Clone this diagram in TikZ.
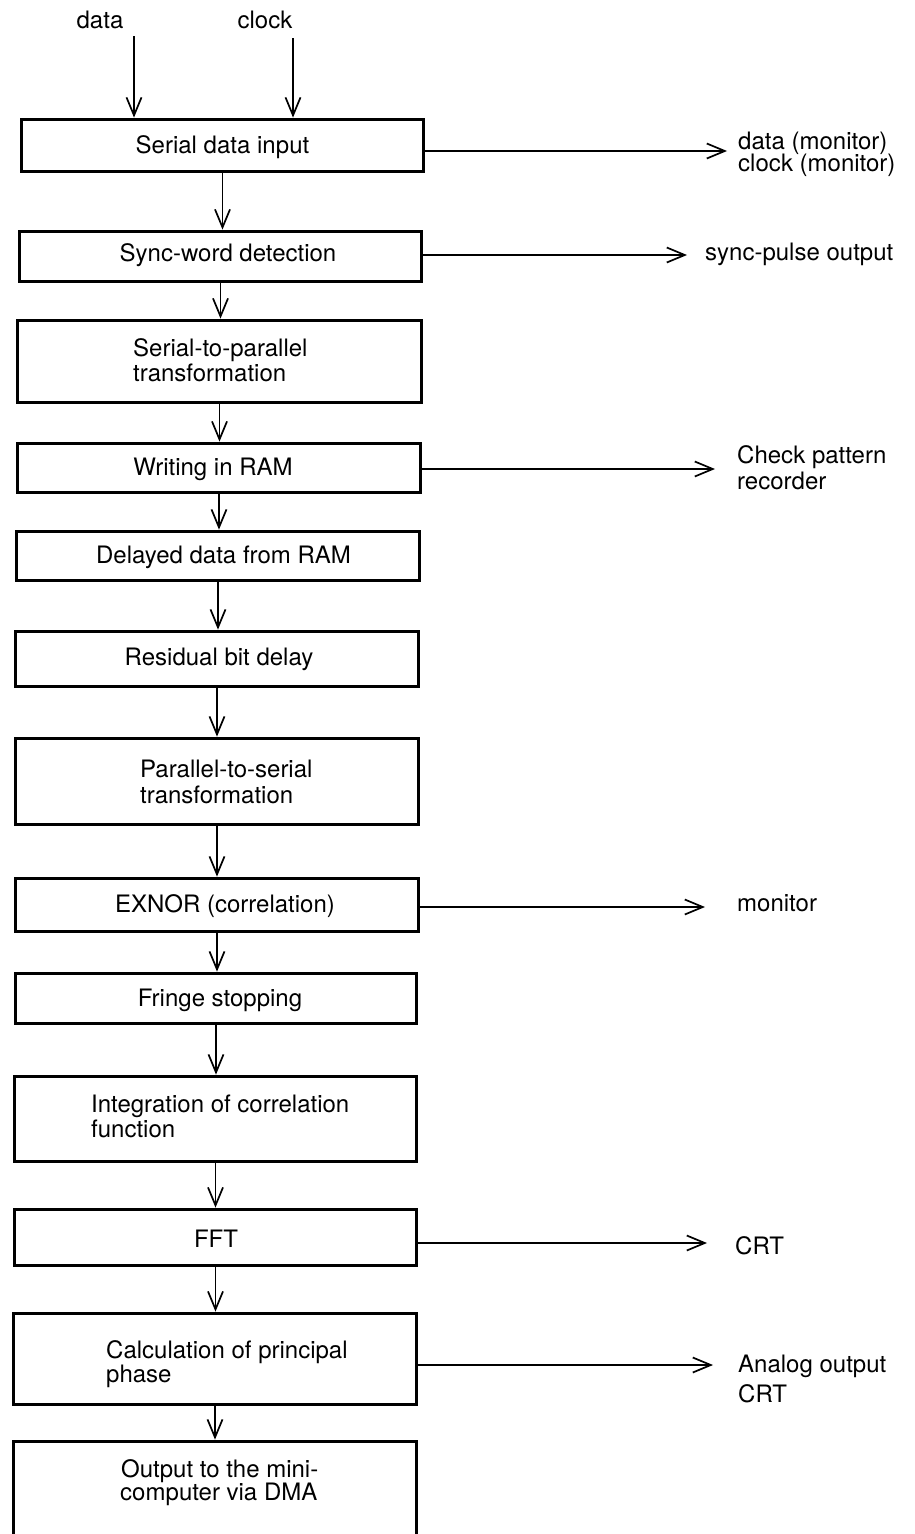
\documentclass[tikz,border=0pt]{standalone}
\usepackage{fontspec}
\setmainfont{TeX Gyre Heros}
\usetikzlibrary{arrows.meta}
\begin{document}
\begin{tikzpicture}[x=1pt,y=-1pt,
  stage/.style={draw,line width=3.8pt,inner sep=0pt},
  txt/.style={font=\fontsize{24}{25}\selectfont,inner sep=0pt},
  mid/.style={txt,anchor=base},
  left/.style={txt,anchor=base west},
  link/.style={line width=1.7pt,-{Straight Barb[length=18pt,width=15pt,line width=1.7pt]}}
]
\useasboundingbox (0,0) rectangle (915,1534);

% processing stages
\node[stage,minimum width=402pt,minimum height=52pt] (b1)  at (222.5,145.5) {};
\node[stage,minimum width=402pt,minimum height=50pt] (b2)  at (220.5,256.5) {};
\node[stage,minimum width=404pt,minimum height=82pt] (b3)  at (219.5,361.5) {};
\node[stage,minimum width=403pt,minimum height=49pt] (b4)  at (219,468) {};
\node[stage,minimum width=403pt,minimum height=49pt] (b5)  at (218,556) {};
\node[stage,minimum width=403pt,minimum height=55pt] (b6)  at (217,659) {};
\node[stage,minimum width=403pt,minimum height=86pt] (b7)  at (217,781.5) {};
\node[stage,minimum width=403pt,minimum height=53pt] (b8)  at (217,905) {};
\node[stage,minimum width=401pt,minimum height=50pt] (b9)  at (216,998.5) {};
\node[stage,minimum width=402pt,minimum height=85pt] (b10) at (215.5,1119) {};
\node[stage,minimum width=402pt,minimum height=56pt] (b11) at (215.5,1237.5) {};
\node[stage,minimum width=403pt,minimum height=91pt] (b12) at (215,1359) {};
\node[stage,minimum width=403pt,minimum height=102pt] (b13) at (215,1492.5) {};

% stage captions
\node[mid]  (t1)  at (222.5,153) {Serial data input};
\node[mid]  (t2)  at (228,261) {Sync-word detection};
\node[left] (t3a) at (133,356) {Serial-to-parallel};
\node[left] (t3b) at (133,381) {transformation};
\node[mid]  (t4)  at (213,475) {Writing in RAM};
\node[mid]  (t5)  at (223.5,563) {Delayed data from RAM};
\node[mid]  (t6)  at (219,665) {Residual bit delay};
\node[left] (t7a) at (140,777) {Parallel-to-serial};
\node[left] (t7b) at (140,803) {transformation};
\node[mid]  (t8)  at (225,912) {EXNOR (correlation)};
\node[mid]  (t9)  at (220,1006) {Fringe stopping};
\node[left] (t10a) at (91,1112) {Integration of correlation};
\node[left] (t10b) at (91,1137) {function};
\node[mid]  (t11) at (216,1247) {FFT};
\node[left] (t12a) at (106,1358) {Calculation of principal};
\node[left] (t12b) at (106,1382) {phase};
\node[left] (t13a) at (121,1477) {Output to the mini-};
\node[left] (t13b) at (120,1500) {computer via DMA};

% inputs
\node[mid] (ldata)  at (100,28) {data};
\node[mid] (lclock) at (265,28) {clock};
\coordinate (din) at (134,36);
\coordinate (cin) at (293,38);
\draw[link] (din) -- (din |- b1.north);
\draw[link] (cin) -- (cin |- b1.north);

% main chain
\foreach \a/\b in {b1/b2,b2/b3,b3/b4,b4/b5,b5/b6,b6/b7,b7/b8,b8/b9,b9/b10,b10/b11,b11/b12,b12/b13}
  \draw[link] (\a.south) -- (\a.south |- \b.north);

% side outputs
\coordinate (r1)  at (727,151);
\coordinate (r2)  at (687,255);
\coordinate (r4)  at (715,469);
\coordinate (r8)  at (705,907);
\coordinate (r11) at (707,1243);
\coordinate (r12) at (713,1365);
\draw[link] (b1.east |- r1) -- (r1);
\draw[link] (b2.east |- r2) -- (r2);
\draw[link] (b4.east |- r4) -- (r4);
\draw[link] (b8.east |- r8) -- (r8);
\draw[link] (b11.east |- r11) -- (r11);
\draw[link] (b12.east |- r12) -- (r12);

\node[left] (o1a) at (738,149) {data (monitor)};
\node[left] (o1b) at (738,171) {clock (monitor)};
\node[left] (o2)  at (705,260) {sync-pulse output};
\node[left] (o4a) at (737,463) {Check pattern};
\node[left] (o4b) at (737,489) {recorder};
\node[left] (o8)  at (737,911) {monitor};
\node[left] (o11) at (735,1254) {CRT};
\node[left] (o12a) at (738,1372) {Analog output};
\node[left] (o12b) at (738,1402) {CRT};
\end{tikzpicture}
\end{document}
